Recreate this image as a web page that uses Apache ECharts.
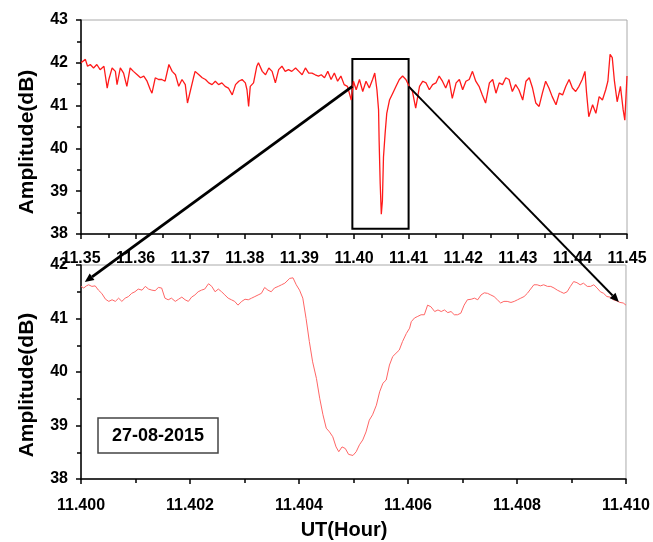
<!DOCTYPE html>
<html>
<head>
<meta charset="utf-8">
<title>Amplitude dip 27-08-2015</title>
<script src="https://cdn.jsdelivr.net/npm/echarts@6/dist/echarts.min.js"></script>
<style>
  html, body { margin: 0; padding: 0; background: #fff; }
  #chart { width: 653px; height: 542px; }
</style>
</head>
<body>
<div id="chart"></div>
<script>
// top panel: 11.35 - 11.45 UT
const topX = [
  11.3500, 11.3508, 11.3512, 11.3517, 11.3523, 11.3529, 11.3535, 11.3542, 11.3548, 11.3551,
  11.3557, 11.3563, 11.3566, 11.3572, 11.3578, 11.3584, 11.3590, 11.3596, 11.3603, 11.3609,
  11.3615, 11.3621, 11.3627, 11.3630, 11.3636, 11.3642, 11.3648, 11.3654, 11.3661, 11.3667,
  11.3673, 11.3679, 11.3685, 11.3691, 11.3695, 11.3700, 11.3706, 11.3709, 11.3716, 11.3722,
  11.3728, 11.3734, 11.3740, 11.3746, 11.3752, 11.3758, 11.3764, 11.3770, 11.3777, 11.3783,
  11.3789, 11.3795, 11.3801, 11.3804, 11.3807, 11.3810, 11.3816, 11.3822, 11.3825, 11.3832,
  11.3838, 11.3844, 11.3850, 11.3856, 11.3862, 11.3868, 11.3874, 11.3880, 11.3886, 11.3893,
  11.3899, 11.3905, 11.3911, 11.3917, 11.3923, 11.3929, 11.3935,
  11.3940, 11.3946, 11.3952, 11.3958, 11.3964, 11.3970, 11.3976, 11.3982, 11.3988, 11.3995,
  11.3999, 11.4004, 11.4010, 11.4016, 11.4022, 11.4028, 11.4034, 11.4038, 11.4042, 11.4045,
  11.4046, 11.4048, 11.4050, 11.4052, 11.4054, 11.4057, 11.4060, 11.4065, 11.4071, 11.4077,
  11.4083, 11.4089, 11.4095, 11.4101, 11.4107, 11.4113, 11.4120, 11.4126, 11.4132, 11.4138,
  11.4144, 11.4150, 11.4156, 11.4162, 11.4168, 11.4174, 11.4180, 11.4187, 11.4193, 11.4199,
  11.4205, 11.4211, 11.4217, 11.4223, 11.4229, 11.4235, 11.4241, 11.4248, 11.4254, 11.4260,
  11.4266, 11.4272, 11.4278, 11.4284, 11.4290, 11.4296, 11.4302, 11.4309, 11.4315, 11.4321,
  11.4327, 11.4333, 11.4339, 11.4345, 11.4351, 11.4357, 11.4363, 11.4370, 11.4376, 11.4382,
  11.4388, 11.4394, 11.4400, 11.4406, 11.4412, 11.4418, 11.4423, 11.4426, 11.4430, 11.4437,
  11.4443, 11.4449, 11.4455, 11.4461, 11.4465, 11.4469, 11.4473, 11.4477, 11.4482, 11.4488,
  11.4493, 11.4496, 11.4500
];
const topY = [
  42.00, 42.08, 41.92, 41.96, 41.88, 41.96, 41.84, 41.92, 41.41, 41.61,
  41.88, 41.80, 41.49, 41.88, 41.76, 41.45, 41.88, 41.80, 41.72, 41.65,
  41.69, 41.57, 41.37, 41.29, 41.65, 41.61, 41.61, 41.57, 41.96, 41.80,
  41.72, 41.45, 41.61, 41.49, 41.06, 41.33, 41.65, 41.80, 41.72, 41.65,
  41.61, 41.53, 41.49, 41.57, 41.49, 41.53, 41.45, 41.41, 41.25, 41.49,
  41.57, 41.61, 41.53, 41.37, 40.98, 41.45, 41.53, 41.92, 42.00, 41.80,
  41.72, 41.88, 41.80, 41.53, 41.84, 41.92, 41.80, 41.84, 41.80, 41.88,
  41.80, 41.72, 41.88, 41.76, 41.76, 41.72, 41.69,
  41.72, 41.65, 41.80, 41.61, 41.76, 41.57, 41.69, 41.49, 41.45, 41.13,
  41.57, 41.37, 41.61, 41.33, 41.57, 41.41, 41.61, 41.76, 41.37, 40.90,
  40.19, 39.17, 38.46, 38.77, 39.80, 40.35, 40.82, 41.13, 41.29, 41.45,
  41.61, 41.69, 41.61, 41.45, 41.33, 40.94, 41.45, 41.57, 41.53, 41.37,
  41.49, 41.53, 41.69, 41.57, 41.41, 41.61, 41.17, 41.53, 41.61, 41.37,
  41.57, 41.61, 41.80, 41.57, 41.45, 41.25, 41.06, 41.53, 41.61, 41.29,
  41.53, 41.49, 41.65, 41.61, 41.33, 41.49, 41.37, 41.13, 41.57, 41.65,
  41.41, 41.06, 40.98, 41.29, 41.57, 41.41, 41.21, 41.02, 41.29, 41.25,
  41.45, 41.61, 41.41, 41.33, 41.45, 41.61, 41.80, 41.29, 40.74, 41.02,
  40.82, 41.21, 41.13, 41.37, 41.57, 42.20, 42.12, 41.57, 41.09, 41.45,
  40.90, 40.66, 41.69
];

// bottom panel: zoom 11.400 - 11.410 UT
const botX = [
  11.40000, 11.40005, 11.40010, 11.40014, 11.40020, 11.40026, 11.40032, 11.40038, 11.40045, 11.40051,
  11.40057, 11.40063, 11.40069, 11.40075, 11.40081, 11.40087, 11.40093, 11.40099, 11.40105, 11.40112,
  11.40118, 11.40124, 11.40130, 11.40136, 11.40142, 11.40148, 11.40154, 11.40160, 11.40166, 11.40173,
  11.40179, 11.40185, 11.40191, 11.40197, 11.40203, 11.40209, 11.40215, 11.40221, 11.40227, 11.40234,
  11.40240, 11.40246, 11.40252, 11.40258, 11.40264, 11.40270, 11.40276, 11.40282, 11.40288, 11.40295,
  11.40301, 11.40307, 11.40313, 11.40319, 11.40325, 11.40331, 11.40337, 11.40343, 11.40349, 11.40355,
  11.40362, 11.40368, 11.40374,
  11.40383, 11.40389, 11.40395, 11.40401, 11.40407, 11.40413, 11.40419, 11.40425, 11.40432, 11.40438,
  11.40444, 11.40450, 11.40456, 11.40462, 11.40468, 11.40473, 11.40479, 11.40485, 11.40491, 11.40499,
  11.40505, 11.40511, 11.40517, 11.40523, 11.40529, 11.40535, 11.40542, 11.40548, 11.40554, 11.40560,
  11.40566, 11.40572, 11.40578, 11.40584, 11.40590, 11.40597, 11.40603,
  11.40606, 11.40612, 11.40618, 11.40624, 11.40630, 11.40636, 11.40642, 11.40649, 11.40655, 11.40661,
  11.40667, 11.40673, 11.40679, 11.40685, 11.40691, 11.40697, 11.40703, 11.40709, 11.40716, 11.40722,
  11.40728, 11.40734, 11.40740, 11.40746, 11.40752, 11.40758, 11.40764, 11.40770, 11.40776, 11.40782,
  11.40789, 11.40795, 11.40801, 11.40807, 11.40813, 11.40819, 11.40825, 11.40831, 11.40837, 11.40843,
  11.40849, 11.40856, 11.40862, 11.40868, 11.40874, 11.40880, 11.40886, 11.40892, 11.40898, 11.40904,
  11.40910, 11.40916, 11.40922, 11.40929, 11.40935, 11.40941, 11.40947, 11.40953, 11.40959, 11.40965,
  11.40971, 11.40977, 11.40983, 11.40989, 11.40995, 11.41000
];
const botY = [
  41.60, 41.57, 41.61, 41.63, 41.60, 41.61, 41.53, 41.47, 41.36, 41.32,
  41.35, 41.32, 41.38, 41.32, 41.38, 41.41, 41.47, 41.50, 41.55, 41.53,
  41.60, 41.55, 41.53, 41.52, 41.58, 41.57, 41.38, 41.35, 41.38, 41.32,
  41.36, 41.40, 41.35, 41.32, 41.40, 41.44, 41.50, 41.53, 41.55, 41.65,
  41.60, 41.50, 41.55, 41.50, 41.44, 41.38, 41.35, 41.32, 41.25, 41.32,
  41.36, 41.35, 41.38, 41.41, 41.44, 41.47, 41.58, 41.53, 41.50, 41.57,
  41.60, 41.63, 41.66,
  41.75, 41.76, 41.63, 41.53, 41.38, 41.00, 40.57, 40.19, 39.88, 39.51,
  39.20, 38.95, 38.88, 38.79, 38.60, 38.51, 38.60, 38.57, 38.46, 38.44,
  38.51, 38.64, 38.73, 38.88, 39.10, 39.20, 39.38, 39.63, 39.79, 39.85,
  40.13, 40.29, 40.35, 40.41, 40.57, 40.72, 40.82,
  40.94, 41.01, 41.04, 41.07, 41.07, 41.25, 41.22, 41.13, 41.16, 41.13,
  41.16, 41.11, 41.13, 41.07, 41.07, 41.10, 41.25, 41.35, 41.36, 41.38,
  41.35, 41.44, 41.48, 41.47, 41.44, 41.41, 41.35, 41.29, 41.32, 41.32,
  41.30, 41.32, 41.35, 41.38, 41.41, 41.47, 41.55, 41.63, 41.63, 41.61,
  41.63, 41.60, 41.60, 41.57, 41.53, 41.50, 41.47, 41.50, 41.60, 41.69,
  41.67, 41.63, 41.66, 41.60, 41.60, 41.63, 41.57, 41.50, 41.47, 41.41,
  41.40, 41.35, 41.33, 41.30, 41.29, 41.25
];

// zoom window drawn on the top panel, and the two arrows top -> bottom
const zoomBox = [[11.3997, 42.09], [11.41, 38.12]];
const arrowFrom = [[11.3997, 41.45], [11.41, 41.45]];   // top grid
const arrowTo = [[11.40007, 41.68], [11.40987, 41.31]]; // bottom grid
const dateLabel = "27-08-2015";

const FONT = "Liberation Sans, Arial, sans-serif";

function pairs(xs, ys) {
  return xs.map((x, i) => [x, ys[i]]);
}

function xAxisOf(gridIndex, min, max, interval, digits) {
  return {
    type: "value",
    gridIndex: gridIndex,
    min: min,
    max: max,
    interval: interval,
    axisLine: { show: true, onZero: false, lineStyle: { color: "#000", width: 1.5 } },
    axisTick: { show: true, length: 5, lineStyle: { color: "#000", width: 1.5 } },
    minorTick: { show: true, splitNumber: 2, length: 4, lineStyle: { color: "#000", width: 1.5 } },
    splitLine: { show: false },
    axisLabel: {
      margin: gridIndex === 0 ? 17 : 19,
      color: "#000",
      fontFamily: FONT,
      fontWeight: "bold",
      fontSize: 16
    ,
      formatter: v => v.toFixed(digits)
    }
  };
}

function yAxisOf(gridIndex, min, max) {
  return {
    type: "value",
    gridIndex: gridIndex,
    min: min,
    max: max,
    interval: 1,
    axisLine: { show: true, onZero: false, lineStyle: { color: "#000", width: 1.5 } },
    axisTick: { show: true, length: 5, lineStyle: { color: "#000", width: 1.5 } },
    minorTick: { show: true, splitNumber: 2, length: 4, lineStyle: { color: "#000", width: 1.5 } },
    splitLine: { show: false },
    axisLabel: {
      margin: 13,
      color: "#000",
      fontFamily: FONT,
      fontWeight: "bold",
      fontSize: 16
    }
  };
}

const chart = echarts.init(document.getElementById("chart"));

const option = {
  animation: false,
  backgroundColor: "#fff",
  grid: [
    { left: 81, top: 20, width: 546, height: 214, show: true, borderColor: "#aaa", borderWidth: 1 },
    { left: 81, top: 265, width: 546, height: 214, show: true, borderColor: "#aaa", borderWidth: 1 }
  ],
  xAxis: [
    xAxisOf(0, 11.35, 11.45, 0.01, 2),
    xAxisOf(1, 11.4, 11.41, 0.002, 3)
  ],
  yAxis: [
    yAxisOf(0, 38, 43),
    yAxisOf(1, 38, 42)
  ],
  series: [
    {
      type: "line",
      xAxisIndex: 0,
      yAxisIndex: 0,
      data: pairs(topX, topY),
      showSymbol: false,
      silent: true,
      lineStyle: { color: "#ff1a1a", width: 1.3 },
      markArea: {
        silent: true,
        itemStyle: { color: "rgba(0,0,0,0)", borderColor: "#000", borderWidth: 2 },
        data: [[
          { xAxis: zoomBox[0][0], yAxis: zoomBox[0][1] },
          { xAxis: zoomBox[1][0], yAxis: zoomBox[1][1] }
        ]]
      }
    },
    {
      type: "line",
      xAxisIndex: 1,
      yAxisIndex: 1,
      data: pairs(botX, botY),
      showSymbol: false,
      silent: true,
      lineStyle: { color: "#ff6666", width: 1 }
    }
  ]
};
chart.setOption(option);

// arrows cross both grids, so place them after the axes exist
function arrow(p0, p1, width, head) {
  const dx = p1[0] - p0[0], dy = p1[1] - p0[1];
  const len = Math.sqrt(dx * dx + dy * dy);
  const ux = dx / len, uy = dy / len;
  const bx = p1[0] - ux * head, by = p1[1] - uy * head;
  const w = head * 0.45;
  return [
    {
      type: "line",
      silent: true,
      z: 100,
      shape: { x1: p0[0], y1: p0[1], x2: bx, y2: by },
      style: { stroke: "#000", lineWidth: width }
    },
    {
      type: "polygon",
      silent: true,
      z: 100,
      shape: { points: [p1, [bx - uy * w, by + ux * w], [bx + uy * w, by - ux * w]] },
      style: { fill: "#000" }
    }
  ];
}

const graphics = [];
for (let i = 0; i < arrowFrom.length; i++) {
  const a = chart.convertToPixel({ gridIndex: 0 }, arrowFrom[i]);
  const b = chart.convertToPixel({ gridIndex: 1 }, arrowTo[i]);
  graphics.push(...arrow(a, b, i === 0 ? 2.8 : 1.9, 9));
}

graphics.push(
  {
    type: "text",
    x: 27, y: 142,
    rotation: Math.PI / 2,
    style: { text: "Amplitude(dB)", font: "bold 21px " + FONT, fill: "#000", align: "center", verticalAlign: "middle" }
  },
  {
    type: "text",
    x: 27, y: 385,
    rotation: Math.PI / 2,
    style: { text: "Amplitude(dB)", font: "bold 21px " + FONT, fill: "#000", align: "center", verticalAlign: "middle" }
  },
  {
    type: "text",
    x: 344, y: 530,
    style: { text: "UT(Hour)", font: "bold 20px " + FONT, fill: "#000", align: "center", verticalAlign: "middle" }
  },
  {
    type: "rect",
    shape: { x: 98, y: 418, width: 120, height: 35 },
    style: { fill: "#fff", stroke: "#444", lineWidth: 1.5 }
  },
  {
    type: "text",
    x: 158, y: 436,
    style: { text: dateLabel, font: "bold 18px " + FONT, fill: "#000", align: "center", verticalAlign: "middle" }
  }
);

chart.setOption({ graphic: graphics });
</script>
</body>
</html>
